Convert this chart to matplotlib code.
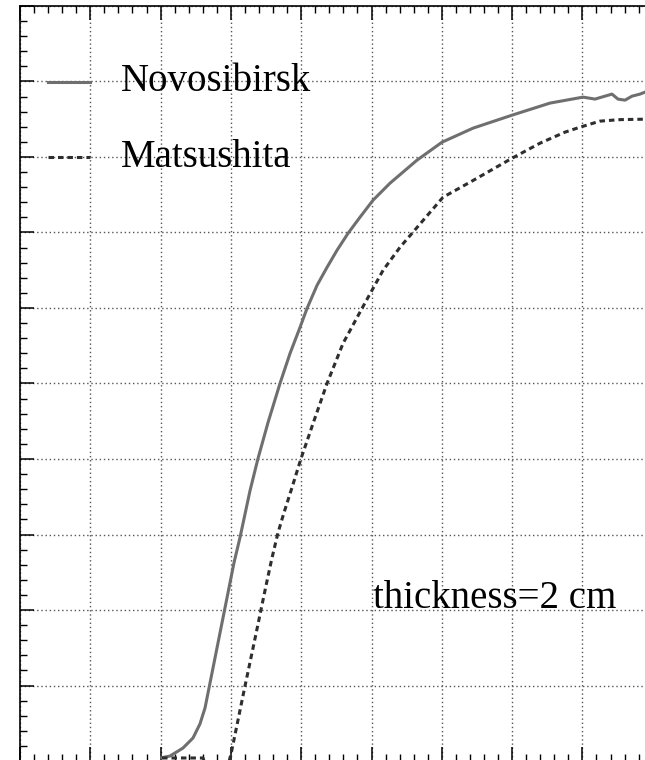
import matplotlib
matplotlib.use("Agg")
import matplotlib.pyplot as plt
from matplotlib.ticker import MultipleLocator

# light yield vs. position, 2 cm thick samples (grid units)
novo_x = [2.016, 2.134, 2.319, 2.461, 2.560, 2.632, 2.760, 2.902, 3.044, 3.129,
          3.272, 3.385, 3.528, 3.698, 3.841, 3.983, 4.083, 4.225, 4.367, 4.509,
          4.666, 4.836, 5.021, 5.263, 5.647, 6.003, 6.444, 6.999, 7.539, 8.009,
          8.179, 8.321, 8.421, 8.506, 8.606, 8.706, 8.819, 8.890]
novo_y = [0.044, 0.066, 0.172, 0.305, 0.491, 0.703, 1.300, 1.963, 2.626, 2.958,
          3.581, 4.005, 4.483, 5.000, 5.398, 5.743, 5.995, 6.300, 6.538, 6.764,
          6.989, 7.202, 7.427, 7.653, 7.958, 8.196, 8.382, 8.554, 8.714, 8.793,
          8.767, 8.806, 8.833, 8.767, 8.753, 8.806, 8.833, 8.859]

matsu_x = [2.020, 2.603, 2.646, 2.959, 3.011, 3.186, 3.357, 3.499, 3.585, 3.670,
           3.755, 3.869, 3.997, 4.168, 4.367, 4.595, 4.865, 5.164, 5.405, 6.017,
           6.401, 7.000, 7.397, 7.752, 7.966, 8.250, 8.535, 8.890]
matsu_y = [0.040, 0.040, -0.066, -0.066, 0.133, 0.928, 1.684, 2.321, 2.692, 3.024,
           3.289, 3.621, 4.005, 4.469, 5.000, 5.531, 5.995, 6.499, 6.804, 7.467,
           7.666, 7.984, 8.183, 8.329, 8.395, 8.475, 8.495, 8.501]

plt.rcParams["font.family"] = ["Liberation Serif", "DejaVu Serif"]

fig = plt.figure(figsize=(6.45, 7.6), dpi=100)
ax = fig.add_axes([20 / 645, -1 / 760, 703 / 645, 755 / 760])

ax.plot(novo_x, novo_y, color="#6f6f6f", lw=2.2, label="Novosibirsk")
ax.plot(matsu_x, matsu_y, color="#2e2e2e", lw=2.2, dashes=(1.8, 1.3),
        label="Matsushita")

ax.set_xlim(0, 10)
ax.set_ylim(0, 10)
ax.xaxis.set_major_locator(MultipleLocator(1))
ax.xaxis.set_minor_locator(MultipleLocator(0.2))
ax.yaxis.set_major_locator(MultipleLocator(1))
ax.yaxis.set_minor_locator(MultipleLocator(0.2))
ax.tick_params(which="both", direction="in", top=True, right=True,
               labelbottom=False, labelleft=False)
ax.tick_params(which="major", length=10, width=1.1)
ax.tick_params(which="minor", length=5, width=1.0)
ax.grid(True, which="major", color="#555555", lw=1.0, linestyle=(0, (1, 2)))
for sp in ax.spines.values():
    sp.set_linewidth(1.2)

ax.text(5.02, 2.02, "thickness=2 cm", fontsize=28, va="baseline")

ax.legend(loc="center left", bbox_to_anchor=(0.0398, 0.8496), frameon=False,
          fontsize=28, handlelength=1.08, handletextpad=0.8, borderpad=0,
          borderaxespad=0, labelspacing=0.98, handleheight=0.0)

fig.savefig("out.png", dpi=100)
